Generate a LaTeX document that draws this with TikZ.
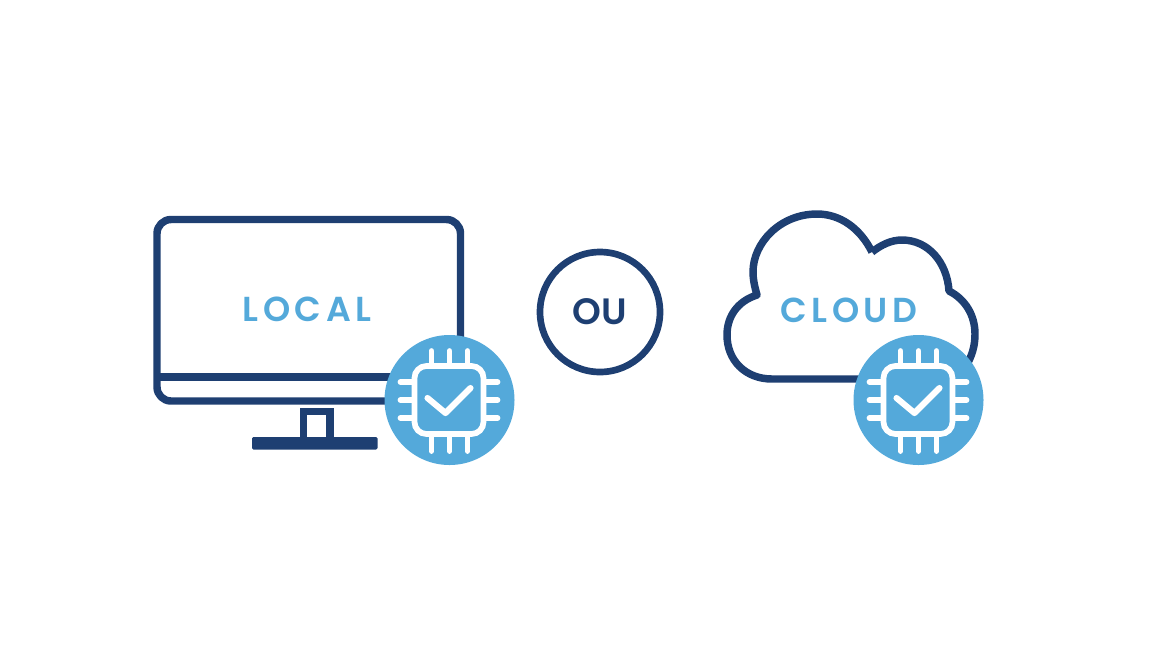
\documentclass[tikz,border=0pt]{standalone}
\usepackage{fontspec}
\setmainfont{Poppins}
\newfontfamily\lbl[LetterSpace=13]{Poppins SemiBold}
\newfontfamily\oub{Poppins SemiBold}
\definecolor{navy}{HTML}{1E3F72}
\definecolor{sky}{HTML}{54A9DA}
\tikzset{
  px/.style={x=0.75pt,y=-0.75pt},
  darkline/.style={draw=navy,line width=5.6pt,line join=round},
  lightlabel/.style={text=sky,font=\lbl\fontsize{26}{26}\selectfont,inner sep=0pt},
  pin/.style={draw=white,line width=4.3pt,line cap=round},
  chipbody/.style={draw=white,line width=4.3pt,rounded corners=9pt},
  tick/.style={draw=white,line width=4.6pt,line cap=round,line join=round},
  badge/.pic={
    \fill[sky] (0,0) circle (65);
    \draw[chipbody] (-35,-34) rectangle (34,34);
    \foreach \k in {-18,0,18}{
      \draw[pin] (\k,-49) -- (\k,-36);
      \draw[pin] (\k,36) -- (\k,51);
      \draw[pin] (-49,\k) -- (-36,\k);
      \draw[pin] (36,\k) -- (48,\k);
    }
    \draw[tick] (-22,-2) -- (-4,13) -- (21,-12);
  }
}
\begin{document}
\begin{tikzpicture}[px]
\useasboundingbox (0,0) rectangle (1155,662);
% monitor
\draw[darkline,rounded corners=10.5pt] (157,377) -- (157,219.5) -- (460.5,219.5) -- (460.5,401) -- (157,401) -- (157,377);
\draw[darkline] (157,377) -- (400,377);
\draw[darkline,line join=miter] (303.5,440) -- (303.5,411.5) -- (330,411.5) -- (330,440);
\fill[navy,rounded corners=1pt] (252,437) rectangle (377.5,449.5);
\node[lightlabel] (local) at (307,309.5) {LOCAL};
\pic at (449.5,400) {badge};
% or
\node[circle,draw=navy,line width=5pt,minimum size=90pt,inner sep=0pt,
      text=navy,font=\oub\fontsize{27.5}{27}\selectfont] (ou) at (600,312) {OU};
% cloud
\draw[darkline] (872,252)
  .. controls (860,228) and (840,214) .. (817,214)
  .. controls (780,214) and (753,243) .. (753,272)
  .. controls (753,280) and (755,288) .. (757,295)
  .. controls (738,301) and (727,316) .. (727,335)
  .. controls (727,360) and (745,379) .. (772,379)
  -- (870,379)
  (966,366)
  .. controls (972,356) and (975,346) .. (975,334)
  .. controls (975,315) and (965,299) .. (949,291)
  .. controls (947,262) and (928,240) .. (902,240)
  .. controls (891,240) and (881,245) .. (872,252);
\node[lightlabel] (cloud) at (849,310.5) {CLOUD};
\pic at (918.5,400) {badge};
\end{tikzpicture}
\end{document}
